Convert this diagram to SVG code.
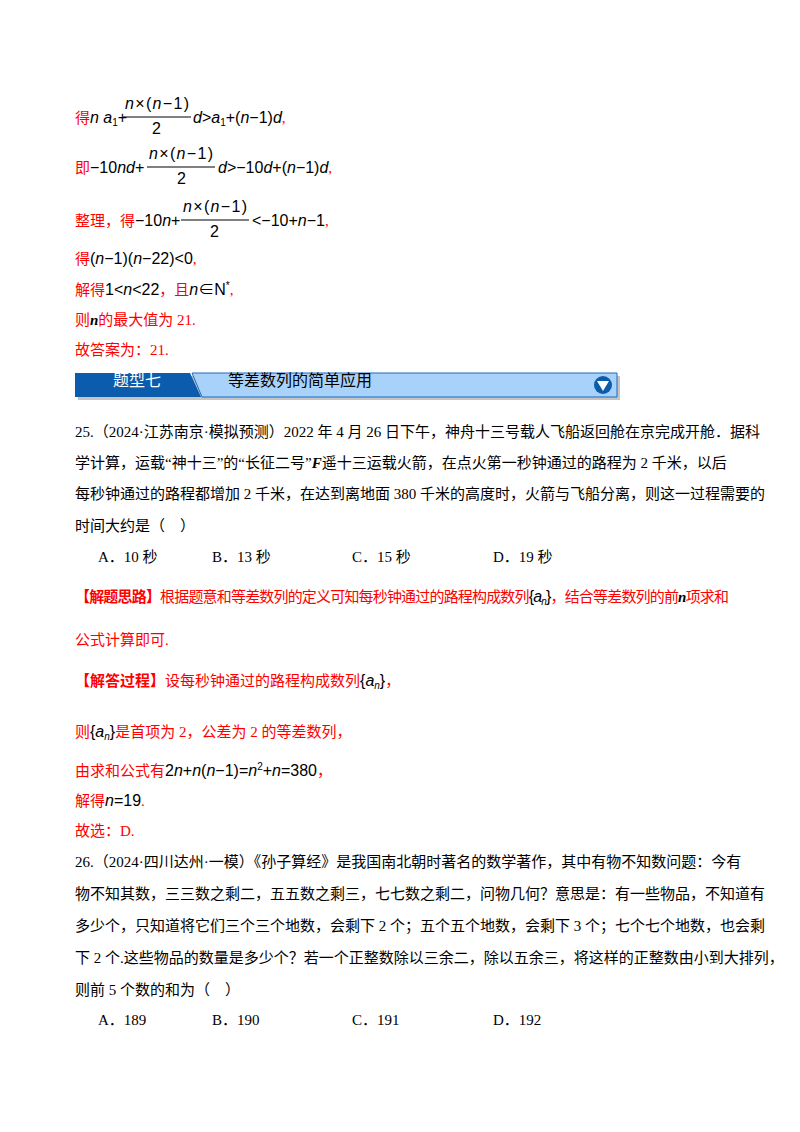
<svg xmlns="http://www.w3.org/2000/svg" width="800" height="1132" viewBox="0 0 800 1132">
<style>
.r{font-family:"Liberation Serif","Noto Sans CJK SC",serif;font-size:15px;fill:#ff0000}
.k{font-family:"Liberation Serif","Noto Sans CJK SC",serif;font-size:15px;fill:#000}
.m{font-family:"Liberation Sans","Noto Sans CJK SC",sans-serif;font-size:16px;fill:#000}
.i{font-style:italic}
.s{font-size:10px}
.b{font-weight:bold}
.bk{fill:#000}
</style>
<rect width="800" height="1132" fill="#fff"/>
<g id="formulas">
<text x="75" y="123"><tspan class="r">得</tspan><tspan class="m i">n a</tspan><tspan class="m s" dy="3">1</tspan><tspan class="m" dy="-3">+</tspan></text>
<text x="125" y="109" class="m" textLength="64"><tspan class="i">n</tspan>×(<tspan class="i">n</tspan>−1)</text>
<line x1="123" y1="117" x2="191" y2="117" stroke="#000"/>
<text x="152" y="134" class="m">2</text>
<text x="193" y="123" class="m"><tspan class="i">d</tspan>&gt;<tspan class="i">a</tspan><tspan class="s" dy="3">1</tspan><tspan dy="-3">+(</tspan><tspan class="i">n</tspan>−1)<tspan class="i">d</tspan><tspan class="r">,</tspan></text>

<text x="75" y="173"><tspan class="r">即</tspan><tspan class="m">−10<tspan class="i">nd</tspan>+</tspan></text>
<text x="149" y="159" class="m" textLength="64"><tspan class="i">n</tspan>×(<tspan class="i">n</tspan>−1)</text>
<line x1="147" y1="167" x2="215" y2="167" stroke="#000"/>
<text x="177" y="184" class="m">2</text>
<text x="218" y="173" class="m"><tspan class="i">d</tspan>&gt;−10<tspan class="i">d</tspan>+(<tspan class="i">n</tspan>−1)<tspan class="i">d</tspan><tspan class="r">,</tspan></text>

<text x="75" y="226"><tspan class="r">整理，得</tspan><tspan class="m">−10<tspan class="i">n</tspan>+</tspan></text>
<text x="183" y="212" class="m" textLength="64"><tspan class="i">n</tspan>×(<tspan class="i">n</tspan>−1)</text>
<line x1="181" y1="220" x2="249" y2="220" stroke="#000"/>
<text x="210" y="237" class="m">2</text>
<text x="252" y="226" class="m">&lt;−10+<tspan class="i">n</tspan>−1<tspan class="r">,</tspan></text>

<text x="75" y="264"><tspan class="r">得</tspan><tspan class="m">(<tspan class="i">n</tspan>−1)(<tspan class="i">n</tspan>−22)&lt;0</tspan><tspan class="r">,</tspan></text>
<text x="75" y="295" class="r">解得<tspan class="m bk">1&lt;<tspan class="i">n</tspan>&lt;22</tspan>，且<tspan class="m i bk">n</tspan><tspan class="m bk">∈N<tspan class="s" dy="-6">*</tspan></tspan><tspan dy="6">,</tspan></text>
<text x="75" y="325" class="r">则<tspan class="b i bk">n</tspan>的最大值为 21.</text>
<text x="75" y="355" class="r">故答案为：21.</text>
</g>
<g id="banner">
<rect x="78" y="376" width="542" height="24" fill="#555" opacity="0.35"/>
<polygon points="75,373 190,373 201,397 75,397" fill="#0b5cad"/>
<polygon points="192,373 617,373 617,397 202,397" fill="#a8d2fa" stroke="#1d6bbd"/>
<text x="113" y="386" font-family="Noto Sans CJK SC,sans-serif" font-size="16" fill="#fff">题型七</text>
<text x="228" y="386" font-family="Noto Sans CJK SC,sans-serif" font-size="16" fill="#000">等差数列的简单应用</text>
<circle cx="603" cy="385" r="9" fill="#0b5cad"/>
<polygon points="597,381 609,381 603,391" fill="#fff"/>
</g>
<g id="q25" class="k">
<text x="75" y="437">25.（2024·江苏南京·模拟预测）2022 年 4 月 26 日下午，神舟十三号载人飞船返回舱在京完成开舱．据科</text>
<text x="75" y="468">学计算，运载“神十三”的“长征二号”<tspan class="i b">F</tspan>遥十三运载火箭，在点火第一秒钟通过的路程为 2 千米，以后</text>
<text x="75" y="499">每秒钟通过的路程都增加 2 千米，在达到离地面 380 千米的高度时，火箭与飞船分离，则这一过程需要的</text>
<text x="75" y="531">时间大约是（　）</text>
<text x="98" y="562">A．10 秒</text>
<text x="212" y="562">B．13 秒</text>
<text x="352" y="562">C．15 秒</text>
<text x="493" y="562">D．19 秒</text>
</g>
<g id="a25" class="r">
<text x="75" y="602" textLength="654"><tspan class="b">【解题思路】</tspan>根据题意和等差数列的定义可知每秒钟通过的路程构成数列<tspan class="m bk">{<tspan class="i">a</tspan><tspan class="s i" dy="3">n</tspan><tspan dy="-3">}</tspan></tspan>，结合等差数列的前<tspan class="b i bk">n</tspan>项求和</text>
<text x="75" y="645">公式计算即可.</text>
<text x="75" y="686"><tspan class="b">【解答过程】</tspan>设每秒钟通过的路程构成数列<tspan class="m bk">{<tspan class="i">a</tspan><tspan class="s i" dy="3">n</tspan><tspan dy="-3">}</tspan></tspan>，</text>
<text x="75" y="737">则<tspan class="m bk">{<tspan class="i">a</tspan><tspan class="s i" dy="3">n</tspan><tspan dy="-3">}</tspan></tspan>是首项为 2，公差为 2 的等差数列，</text>
<text x="75" y="776">由求和公式有<tspan class="m bk">2<tspan class="i">n</tspan>+<tspan class="i">n</tspan>(<tspan class="i">n</tspan>−1)=<tspan class="i">n</tspan><tspan class="s" dy="-6">2</tspan><tspan dy="6">+</tspan><tspan class="i">n</tspan>=380</tspan>，</text>
<text x="75" y="806">解得<tspan class="m bk"><tspan class="i">n</tspan>=19</tspan>.</text>
<text x="75" y="836">故选：D.</text>
</g>
<g id="q26" class="k">
<text x="75" y="867">26.（2024·四川达州·一模）《孙子算经》是我国南北朝时著名的数学著作，其中有物不知数问题：今有</text>
<text x="75" y="899">物不知其数，三三数之剩二，五五数之剩三，七七数之剩二，问物几何？意思是：有一些物品，不知道有</text>
<text x="75" y="931">多少个，只知道将它们三个三个地数，会剩下 2 个；五个五个地数，会剩下 3 个；七个七个地数，也会剩</text>
<text x="75" y="963">下 2 个.这些物品的数量是多少个？若一个正整数除以三余二，除以五余三，将这样的正整数由小到大排列，</text>
<text x="75" y="995">则前 5 个数的和为（　）</text>
<text x="98" y="1025">A．189</text>
<text x="212" y="1025">B．190</text>
<text x="352" y="1025">C．191</text>
<text x="493" y="1025">D．192</text>
</g>
</svg>
